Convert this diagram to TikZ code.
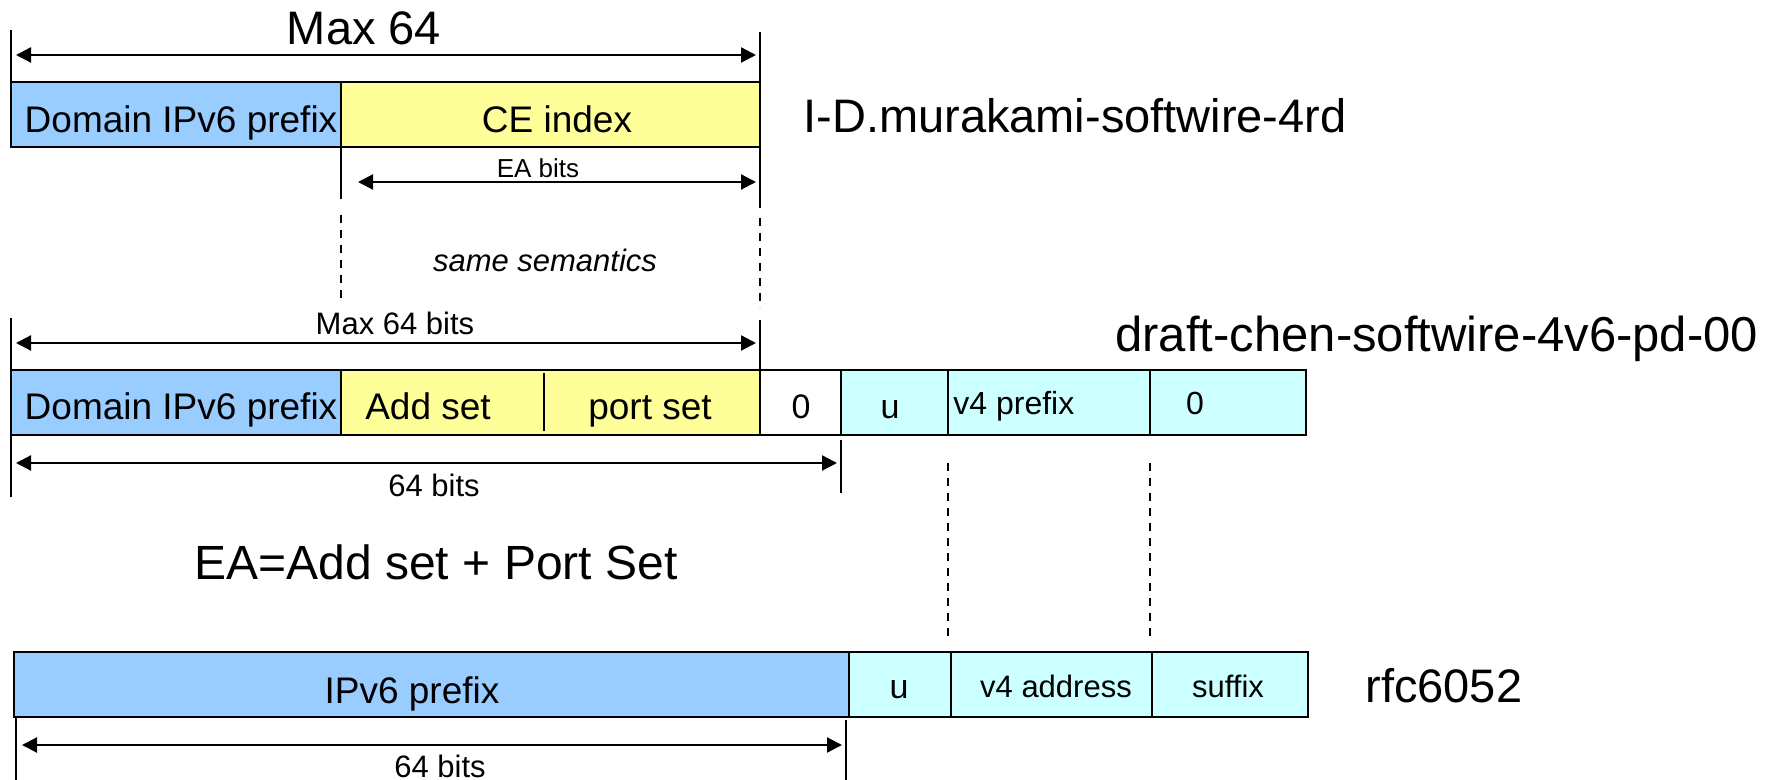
\documentclass[tikz,border=0pt]{standalone}
\usepackage{fontspec}
\setmainfont{Liberation Sans}
\usetikzlibrary{arrows.meta}
\definecolor{pblue}{RGB}{153,204,255}
\definecolor{pyellow}{RGB}{255,255,153}
\definecolor{pcyan}{RGB}{204,255,255}
\newcommand{\fsz}[1]{\fontsize{#1}{#1}\selectfont}
\begin{document}
\begin{tikzpicture}[x=0.5pt,y=-0.5pt,
 cell/.style={draw=black, line width=0.9pt, inner sep=0pt, outer sep=0pt, anchor=north west, minimum height=32.5pt},
 lbl/.style={inner sep=0pt, anchor=base},
 lblw/.style={inner sep=0pt, anchor=base west},
 dim/.style={line width=1.1pt, {Triangle[length=7.5pt,width=7.5pt]}-{Triangle[length=7.5pt,width=7.5pt]}},
 tick/.style={line width=0.75pt},
 guide/.style={line width=0.75pt, dash pattern=on 4pt off 3.5pt},
]
\useasboundingbox (0,0) rectangle (1773,780);

% ---------- row 1 ----------
\node[cell, fill=pblue, minimum width=165pt] (dom1) at (11,82) {};
\node[cell, fill=pyellow, minimum width=209.5pt] (ce1) at (341,82) {};
\node[lbl, font=\fsz{18.5}] (tdom1) at (181,133) {Domain IPv6 prefix};
\node[lbl, font=\fsz{18.5}] (tce1) at (557,133) {CE index};
\node[lbl, font=\fsz{23.5}] (tmax) at (364,45) {Max 64};
\node[lblw, font=\fsz{23.5}] (tid) at (803,133) {I-D.murakami-softwire-4rd};
\node[lbl, font=\fsz{13}] (tea) at (538,178) {EA bits};
\node[lbl, font=\fsz{15.5}\itshape] (tsame) at (545,272) {same semantics};

\coordinate (a1l) at (16,55); \coordinate (a1r) at (756,55);
\draw[dim] (a1l) -- (a1r);
\coordinate (a2l) at (358,182); \coordinate (a2r) at (756,182);
\draw[dim] (a2l) -- (a2r);
\coordinate (k1) at (11,30); \draw[tick] (k1) -- (dom1.north west);
\coordinate (k2) at (760,32); \coordinate (k3) at (760,208); \draw[tick] (k2) -- (k3);
\coordinate (k4) at (341,199); \draw[tick] (ce1.south west) -- (k4);
\coordinate (g1a) at (341,215); \coordinate (g1b) at (341,302); \draw[guide] (g1a) -- (g1b);
\coordinate (g2a) at (760,218); \coordinate (g2b) at (760,308); \draw[guide] (g2a) -- (g2b);

% ---------- row 2 ----------
\node[cell, fill=pblue, minimum width=165pt] (dom2) at (11,370) {};
\node[cell, fill=pyellow, minimum width=209.5pt] (ea2) at (341,370) {};
\node[cell, fill=white, minimum width=40.5pt] (zero2) at (760,370) {};
\node[cell, fill=pcyan, minimum width=53.5pt] (u2) at (841,370) {};
\node[cell, fill=pcyan, minimum width=101pt] (v4p2) at (948,370) {};
\node[cell, fill=pcyan, minimum width=78pt] (zz2) at (1150,370) {};
\coordinate (dv1) at (544,373); \coordinate (dv2) at (544,431);
\draw[line width=0.9pt] (dv1) -- (dv2);
\node[lbl, font=\fsz{18.5}] (tdom2) at (181,420) {Domain IPv6 prefix};
\node[lbl, font=\fsz{18.5}] (tadd) at (428,420) {Add set};
\node[lbl, font=\fsz{18.5}] (tport) at (650,420) {port set};
\node[lbl, font=\fsz{17}] (tz2) at (801,419) {0};
\node[lbl, font=\fsz{17}] (tu2) at (890,419) {u};
\node[lblw, font=\fsz{16}] (tv4p) at (953,415) {v4 prefix};
\node[lbl, font=\fsz{16}] (tzz2) at (1195,415) {0};
\node[lbl, font=\fsz{15.5}] (tmax2) at (395,335) {Max 64 bits};
\node[lblw, font=\fsz{24.5}] (tdraft) at (1115,352) {draft-chen-softwire-4v6-pd-00};
\node[lbl, font=\fsz{15.5}] (t64a) at (434,497) {64 bits};
\node[lbl, font=\fsz{24}] (teaeq) at (436,580) {EA=Add set + Port Set};

\coordinate (a3l) at (16,343); \coordinate (a3r) at (756,343);
\draw[dim] (a3l) -- (a3r);
\coordinate (a4l) at (16,463); \coordinate (a4r) at (837,463);
\draw[dim] (a4l) -- (a4r);
\coordinate (k5) at (11,318); \draw[tick] (k5) -- (dom2.north west);
\coordinate (k6) at (760,320); \draw[tick] (k6) -- (zero2.north west);
\coordinate (k7) at (11,497); \draw[tick] (dom2.south west) -- (k7);
\coordinate (k8a) at (841,440); \coordinate (k8b) at (841,493); \draw[tick] (k8a) -- (k8b);
\coordinate (g3a) at (948,463); \coordinate (g3b) at (948,640); \draw[guide] (g3a) -- (g3b);
\coordinate (g4a) at (1150,463); \coordinate (g4b) at (1150,640); \draw[guide] (g4a) -- (g4b);

% ---------- row 3 ----------
\node[cell, fill=pblue, minimum width=417.5pt] (pre3) at (14,652) {};
\node[cell, fill=pcyan, minimum width=51pt] (u3) at (849,652) {};
\node[cell, fill=pcyan, minimum width=100.5pt] (v4a3) at (951,652) {};
\node[cell, fill=pcyan, minimum width=78pt] (suf3) at (1152,652) {};
\node[lbl, font=\fsz{18.5}] (tpre3) at (412,703) {IPv6 prefix};
\node[lbl, font=\fsz{17}] (tu3) at (899,698) {u};
\node[lbl, font=\fsz{15.5}] (tv4a) at (1056,697) {v4 address};
\node[lbl, font=\fsz{15.5}] (tsuf) at (1228,697) {suffix};
\node[lblw, font=\fsz{23.5}] (trfc) at (1365,702) {rfc6052};
\node[lbl, font=\fsz{15.5}] (t64b) at (440,777) {64 bits};

\coordinate (a5l) at (22,745); \coordinate (a5r) at (842,745);
\draw[dim] (a5l) -- (a5r);
\coordinate (k9a) at (16,718); \coordinate (k9b) at (16,780); \draw[tick] (k9a) -- (k9b);
\coordinate (k10a) at (846,720); \coordinate (k10b) at (846,780); \draw[tick] (k10a) -- (k10b);
\end{tikzpicture}
\end{document}
